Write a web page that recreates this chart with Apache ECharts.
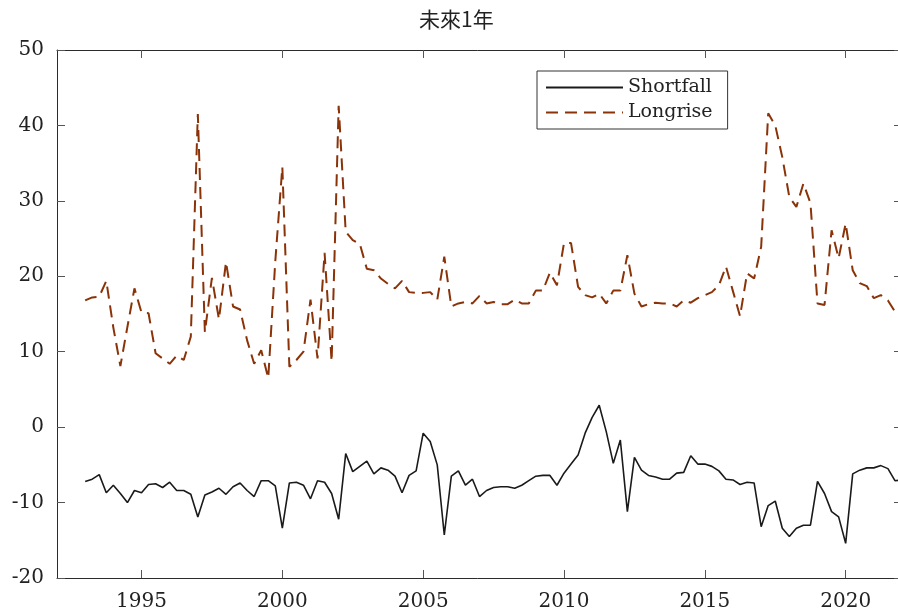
<!DOCTYPE html>
<html>
<head>
<meta charset="utf-8">
<script src="https://cdn.jsdelivr.net/npm/echarts@6/dist/echarts.min.js"></script>
<style>
html,body{margin:0;padding:0;background:#fff;}
#chart{width:898px;height:615px;}
</style>
</head>
<body>
<div id="chart"></div>
<script>
// Quarterly observations, first quarter = 1993.0, step = 0.25 year
const startYear = 1993;
const quarterStep = 0.25;

const shortfall = [
  -7.2, -6.9, -6.3, -8.7,
  -7.7, -8.8, -10.0, -8.4,
  -8.7, -7.6, -7.5, -8.0,
  -7.3, -8.4, -8.4, -8.9,
  -11.9, -9.0, -8.6, -8.1,
  -8.9, -7.9, -7.4, -8.4,
  -9.2, -7.1, -7.1, -7.8,
  -13.4, -7.4, -7.3, -7.7,
  -9.5, -7.1, -7.3, -8.8,
  -12.2, -3.5, -5.9, -5.2,
  -4.5, -6.2, -5.4, -5.7,
  -6.5, -8.7, -6.4, -5.8,
  -0.8, -1.9, -5.0, -14.3,
  -6.5, -5.8, -7.7, -6.9,
  -9.2, -8.4, -8.0, -7.9,
  -7.9, -8.1, -7.7, -7.1,
  -6.5, -6.4, -6.4, -7.7,
  -6.1, -4.9, -3.7, -0.8,
  1.3, 2.9, -0.6, -4.8,
  -1.7, -11.2, -4.0, -5.7,
  -6.4, -6.6, -6.9, -6.9,
  -6.1, -6.0, -3.8, -4.9,
  -4.9, -5.2, -5.8, -6.9,
  -7.0, -7.6, -7.3, -7.4,
  -13.2, -10.4, -9.8, -13.4,
  -14.5, -13.4, -13.0, -13.0,
  -7.2, -8.8, -11.2, -11.9,
  -15.4, -6.2, -5.7, -5.4,
  -5.4, -5.1, -5.5, -7.1,
  -7.0
];

const longrise = [
  16.8, 17.2, 17.3, 19.4,
  13.2, 8.1, 13.3, 18.4,
  15.2, 15.1, 9.8, 9.1,
  8.4, 9.5, 8.9, 12.0,
  41.5, 12.6, 19.8, 14.3,
  21.9, 16.0, 15.6, 11.5,
  8.4, 10.2, 6.5, 22.0,
  34.5, 8.0, 8.9, 10.0,
  16.9, 9.1, 23.1, 8.7,
  42.6, 25.9, 24.8, 24.3,
  21.0, 20.8, 19.7, 19.0,
  18.4, 19.4, 17.9, 17.8,
  17.8, 17.9, 16.9, 22.6,
  16.0, 16.4, 16.6, 16.4,
  17.4, 16.4, 16.6, 16.3,
  16.3, 16.9, 16.4, 16.4,
  18.1, 18.1, 20.5, 18.8,
  24.4, 24.4, 18.6, 17.5,
  17.2, 17.7, 16.4, 18.1,
  18.1, 22.8, 17.7, 16.0,
  16.3, 16.5, 16.4, 16.4,
  16.0, 16.8, 16.5, 17.1,
  17.5, 17.9, 18.8, 21.3,
  18.0, 14.7, 20.4, 19.7,
  23.9, 41.6, 40.0, 35.8,
  30.5, 29.2, 32.3, 29.7,
  16.4, 16.2, 26.1, 22.4,
  27.0, 20.8, 19.1, 18.7,
  17.1, 17.5, 16.8, 15.3,
  15.7
];

const xTicks = [1995, 2000, 2005, 2010, 2015, 2020];
const titleText = '未來1年';
const seriesNames = ['Shortfall', 'Longrise'];

const times = shortfall.map((_, i) => startYear + i * quarterStep);
const toPairs = arr => arr.map((v, i) => [times[i], v]);

const serif = 'DejaVu Serif';
const axisLineStyle = { color: '#2b2b2b', width: 1 };
const tickStyle = { color: '#555', width: 1 };

const chart = echarts.init(document.getElementById('chart'), null, { renderer: 'canvas' });
chart.setOption({
  animation: false,
  backgroundColor: '#fff',
  title: {
    text: titleText,
    left: 414,
    top: 4,
    textStyle: { fontFamily: 'Noto Sans CJK TC', fontSize: 21, fontWeight: 'normal', color: '#222' }
  },
  grid: { left: 57, top: 50, width: 845, height: 528, outerBoundsMode: 'none', containLabel: false },
  legend: {
    orient: 'vertical',
    left: 537,
    top: 71,
    itemWidth: 77,
    itemHeight: 14,
    itemGap: 6,
    padding: [7, 15, 7, 8],
    borderColor: '#333',
    borderWidth: 1,
    backgroundColor: '#fff',
    itemStyle: { opacity: 0 },
    textStyle: { fontFamily: serif, fontSize: 19, color: '#222' },
    data: seriesNames
  },
  xAxis: [
    {
      type: 'value', min: 1992, max: 2022, position: 'bottom',
      axisLine: { show: true, onZero: false, lineStyle: axisLineStyle },
      axisTick: { show: true, inside: true, length: 8, lineStyle: tickStyle, customValues: xTicks },
      axisLabel: { show: true, customValues: xTicks, formatter: v => String(v), fontFamily: serif, fontSize: 20, color: '#222', margin: 14 },
      splitLine: { show: false }
    },
    {
      type: 'value', min: 1992, max: 2022, position: 'top',
      axisLine: { show: true, onZero: false, lineStyle: axisLineStyle },
      axisTick: { show: true, inside: true, length: 8, lineStyle: tickStyle, customValues: xTicks },
      axisLabel: { show: false },
      splitLine: { show: false }
    }
  ],
  yAxis: [
    {
      type: 'value', min: -20, max: 50, interval: 10, position: 'left',
      axisLine: { show: true, onZero: false, lineStyle: axisLineStyle },
      axisTick: { show: true, inside: true, length: 8, lineStyle: tickStyle },
      axisLabel: { show: true, fontFamily: serif, fontSize: 20, color: '#222', margin: 13 },
      splitLine: { show: false }
    },
    {
      type: 'value', min: -20, max: 50, interval: 10, position: 'right',
      axisLine: { show: true, onZero: false, lineStyle: axisLineStyle },
      axisTick: { show: true, inside: true, length: 8, lineStyle: tickStyle },
      axisLabel: { show: false },
      splitLine: { show: false }
    }
  ],
  series: [
    {
      name: seriesNames[0], type: 'line', xAxisIndex: 0, yAxisIndex: 0,
      data: toPairs(shortfall), symbol: 'none', showSymbol: false,
      lineStyle: { color: '#1a1a1a', width: 1.6 },
      itemStyle: { color: '#1a1a1a' }
    },
    {
      name: seriesNames[1], type: 'line', xAxisIndex: 0, yAxisIndex: 0,
      data: toPairs(longrise), symbol: 'none', showSymbol: false,
      lineStyle: { color: '#8a3208', width: 2, type: [12, 7] },
      itemStyle: { color: '#8a3208' }
    }
  ]
});
</script>
</body>
</html>
